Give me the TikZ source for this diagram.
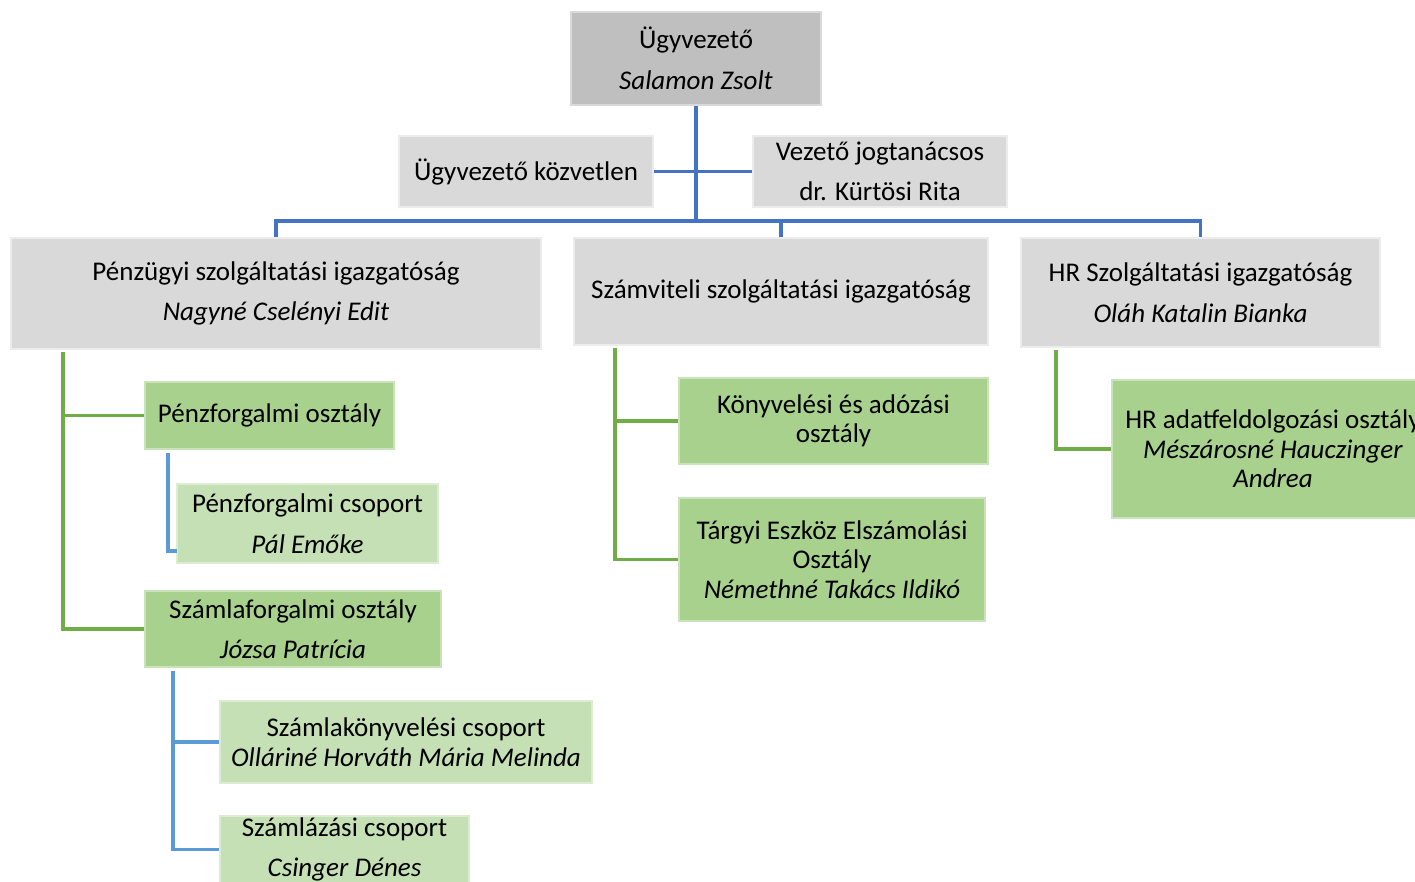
\documentclass[tikz,border=0pt]{standalone}
\usepackage{fontspec}
\setmainfont{Carlito}
\definecolor{ceoGray}{HTML}{BFBFBF}
\definecolor{boxGray}{HTML}{D9D9D9}
\definecolor{dGreen}{HTML}{A9D18E}
\definecolor{lGreen}{HTML}{C5E0B4}
\definecolor{lnBlue}{HTML}{4472C4}
\definecolor{lnGreen}{HTML}{70AD47}
\definecolor{lnLBlue}{HTML}{5B9BD5}
\newcommand\fsA{\fontsize{27}{40.5}\selectfont}
\newcommand\fsB{\fontsize{27}{29.5}\selectfont}
\tikzset{
  orgbox/.style={rectangle, inner sep=0pt, align=center, text=black, font=\fsA, line width=1.2pt},
  graybox/.style={orgbox, fill=boxGray, draw=boxGray!50!white},
  ceobox/.style={orgbox, fill=ceoGray, draw=ceoGray!60!white},
  dgbox/.style={orgbox, fill=dGreen, draw=dGreen!60!white},
  lgbox/.style={orgbox, fill=lGreen, draw=lGreen!60!white},
  tight/.style={font=\fsB},
  bl/.style={draw=lnBlue, line width=3.2pt},
  gl/.style={draw=lnGreen, line width=3.2pt},
  lbl/.style={draw=lnLBlue, line width=3.2pt},
}
\begin{document}
\begin{tikzpicture}[x=1pt, y=-1pt]
\useasboundingbox (0,0) rectangle (1415,881);
\clip (0,0) rectangle (1415,881);
% nodes
\node[ceobox, minimum width=250, minimum height=93] (ceo) at (696,58.5) {Ügyvezető\\\textit{Salamon Zsolt}};
\node[graybox, minimum width=254, minimum height=71] (kozv) at (526,171.5) {Ügyvezető közvetlen};
\node[graybox, minimum width=254, minimum height=71] (jog) at (880,171.5) {Vezető jogtanácsos\\dr. Kürtösi Rita};
\node[graybox, minimum width=530, minimum height=111] (pen) at (276,293.5) {Pénzügyi szolgáltatási igazgatóság\\\textit{Nagyné Cselényi Edit}};
\node[graybox, minimum width=414, minimum height=107] (szam) at (781,291.5) {Számviteli szolgáltatási igazgatóság};
\node[graybox, minimum width=359, minimum height=109] (hr) at (1200.5,292.5) {HR Szolgáltatási igazgatóság\\\textit{Oláh Katalin Bianka}};
\node[dgbox, minimum width=249, minimum height=67] (penzo) at (269.5,415.5) {Pénzforgalmi osztály};
\node[lgbox, minimum width=261, minimum height=79] (pcs) at (307.5,523.5) {Pénzforgalmi csoport\\\textit{Pál Emőke}};
\node[dgbox, minimum width=296, minimum height=76] (szamlo) at (293,629) {Számlaforgalmi osztály\\\textit{Józsa Patrícia}};
\node[lgbox, tight, minimum width=372, minimum height=82] (szkcs) at (406,742) {Számlakönyvelési csoport\\\textit{Olláriné Horváth Mária Melinda}};
\node[lgbox, minimum width=249, minimum height=67] (szlcs) at (344.5,849.5) {Számlázási csoport\\\textit{Csinger Dénes}};
\node[dgbox, tight, minimum width=309, minimum height=86] (kon) at (833.5,421) {Könyvelési és adózási\\osztály};
\node[dgbox, tight, minimum width=306, minimum height=123] (targy) at (832,559.5) {Tárgyi Eszköz Elszámolási\\Osztály\\\textit{Némethné Takács Ildikó}};
\node[dgbox, tight, minimum width=322, minimum height=138] (hrad) at (1273,449) {HR adatfeldolgozási osztály\\\textit{Mészárosné Hauczinger}\\\textit{Andrea}};
% coordinates
\coordinate (bus) at (696,221);
\coordinate (pg) at (63,352);
\coordinate (sg) at (615,348);
\coordinate (hg) at (1056,350);
\coordinate (pb) at (168,453);
\coordinate (pcsin) at (177,551);
\coordinate (sb) at (173,671);
% blue top connectors
\draw[bl] (ceo.south) -- (bus);
\draw[bl] (kozv.east) -- (jog.west);
\draw[bl] (pen.north) |- (bus) -| (hr.north);
\draw[bl] (szam.north) -- (szam.north |- bus);
% green connectors
\draw[gl] (pg) |- (penzo.west);
\draw[gl] (pg) |- (szamlo.west);
\draw[gl] (sg) |- (kon.west);
\draw[gl] (sg) |- (targy.west);
\draw[gl] (hg) |- (hrad.west);
% light blue connectors
\draw[lbl] (pb) |- (pcsin);
\draw[lbl] (sb) |- (szkcs.west);
\draw[lbl] (sb) |- (szlcs.west);
\end{tikzpicture}
\end{document}
